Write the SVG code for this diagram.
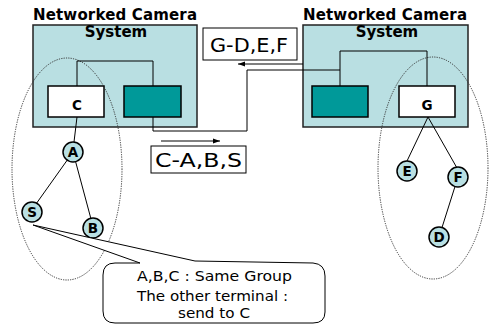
<svg xmlns="http://www.w3.org/2000/svg" width="491" height="326" viewBox="0 0 491 326">
  <defs>
    <marker id="arrow" markerWidth="8" markerHeight="6" refX="7" refY="3" orient="auto" markerUnits="userSpaceOnUse">
      <path d="M0,0.5 L7,3 L0,5.5 Z" fill="#000"/>
    </marker>
  </defs>
  <style>
    .sys { fill: #b9dfe2; stroke: #222; stroke-width: 1.5; }
    .term { fill: #fff; stroke: #000; stroke-width: 1.5; }
    .relay { fill: #009999; stroke: #000; stroke-width: 1.5; }
    .node { fill: #b9e0e3; stroke: #000; stroke-width: 1.5; }
    .title { font-family: "DejaVu Sans", Verdana, sans-serif; font-weight: bold; font-size: 15px; fill: #000; }
    .nlabel { font-family: "DejaVu Sans", Verdana, sans-serif; font-weight: bold; font-size: 13.5px; fill: #000; text-anchor: middle; }
    .msg { font-family: "DejaVu Sans", Verdana, sans-serif; font-size: 19px; fill: #000; }
    .note { font-family: "DejaVu Sans", Verdana, sans-serif; font-size: 14.5px; fill: #000; }
    .wire { fill: none; stroke: #000; stroke-width: 1; }
    .group { fill: none; stroke: #333; stroke-width: 1; stroke-dasharray: 1.2 1.2; }
    .msgbox { fill: #fff; stroke: #000; stroke-width: 1; }
  </style>

  <!-- left camera system -->
  <g id="system-left">
    <text class="title" x="33" y="20" textLength="164">Networked Camera</text>
    <rect class="sys" x="33" y="25" width="164" height="102"/>
    <text class="title" x="116" y="37" text-anchor="middle">System</text>
  </g>
  <g id="terminal-C">
    <rect class="term" x="48" y="86" width="56" height="31"/>
    <text class="nlabel" x="77" y="110">C</text>
  </g>
  <g id="relay-left">
    <rect class="relay" x="124" y="86" width="57" height="31"/>
  </g>

  <!-- right camera system -->
  <g id="system-right">
    <text class="title" x="303" y="20" textLength="164">Networked Camera</text>
    <rect class="sys" x="303" y="25" width="165" height="102"/>
    <text class="title" x="387" y="37" text-anchor="middle">System</text>
  </g>
  <g id="relay-right">
    <rect class="relay" x="312" y="86" width="56" height="31"/>
  </g>
  <g id="terminal-G">
    <rect class="term" x="399" y="86" width="56" height="31"/>
    <text class="nlabel" x="427" y="110">G</text>
  </g>

  <!-- group boundaries -->
  <g id="group-left">
    <ellipse class="group" cx="67" cy="169" rx="55" ry="111"/>
  </g>
  <g id="group-right">
    <ellipse class="group" cx="433" cy="168" rx="55" ry="111"/>
  </g>

  <!-- connectors -->
  <g id="connectors">
    <polyline class="wire" points="77,86 77,61 153,61 153,86"/>
    <polyline class="wire" points="153,117 153,131 247,131 247,70 340,70"/>
    <polyline class="wire" points="340,86 340,51 427,51 427,86"/>
    <line class="wire" x1="77" y1="117" x2="74" y2="142"/>
    <line class="wire" x1="73" y1="152" x2="36" y2="204"/>
    <line class="wire" x1="73" y1="152" x2="91" y2="219"/>
    <line class="wire" x1="428" y1="117" x2="407" y2="161"/>
    <line class="wire" x1="428" y1="117" x2="457" y2="168"/>
    <line class="wire" x1="458" y1="177" x2="439" y2="237"/>
    <line class="wire" x1="303" y1="64" x2="238" y2="64" marker-end="url(#arrow)"/>
    <line class="wire" x1="161" y1="141" x2="220" y2="141" marker-end="url(#arrow)"/>
  </g>

  <!-- terminals -->
  <g id="node-A">
    <circle class="node" cx="73" cy="152" r="10"/>
    <text class="nlabel" x="73" y="157">A</text>
  </g>
  <g id="node-S">
    <circle class="node" cx="32" cy="212" r="10"/>
    <text class="nlabel" x="32" y="217">S</text>
  </g>
  <g id="node-B">
    <circle class="node" cx="93" cy="228" r="10"/>
    <text class="nlabel" x="93" y="233">B</text>
  </g>
  <g id="node-E">
    <circle class="node" cx="407" cy="171" r="10"/>
    <text class="nlabel" x="407" y="176">E</text>
  </g>
  <g id="node-F">
    <circle class="node" cx="458" cy="177" r="10"/>
    <text class="nlabel" x="458" y="182">F</text>
  </g>
  <g id="node-D">
    <circle class="node" cx="439" cy="237" r="10"/>
    <text class="nlabel" x="439" y="242">D</text>
  </g>

  <!-- routing messages -->
  <g id="msg-GDEF">
    <rect class="msgbox" x="203" y="28" width="94" height="32"/>
    <text class="msg" x="210" y="52" textLength="78" lengthAdjust="spacingAndGlyphs">G-D,E,F</text>
  </g>
  <g id="msg-CABS">
    <rect class="msgbox" x="151" y="146" width="95" height="27"/>
    <text class="msg" x="155" y="167" textLength="87" lengthAdjust="spacingAndGlyphs">C-A,B,S</text>
  </g>

  <!-- callout note -->
  <g id="note">
    <path class="msgbox" d="M140,263 L33,225 L195,261 L313,263 Q325,264 325,276 L325,312 Q325,323 313,323 L115,323 Q103,323 103,311 L103,275 Q103,263 115,263 Z"/>
    <text class="note" x="137" y="281" textLength="155" lengthAdjust="spacingAndGlyphs">A,B,C : Same Group</text>
    <text class="note" x="137" y="301" textLength="151" lengthAdjust="spacingAndGlyphs">The other terminal :</text>
    <text class="note" x="178" y="318" textLength="72" lengthAdjust="spacingAndGlyphs">send to C</text>
  </g>
</svg>
